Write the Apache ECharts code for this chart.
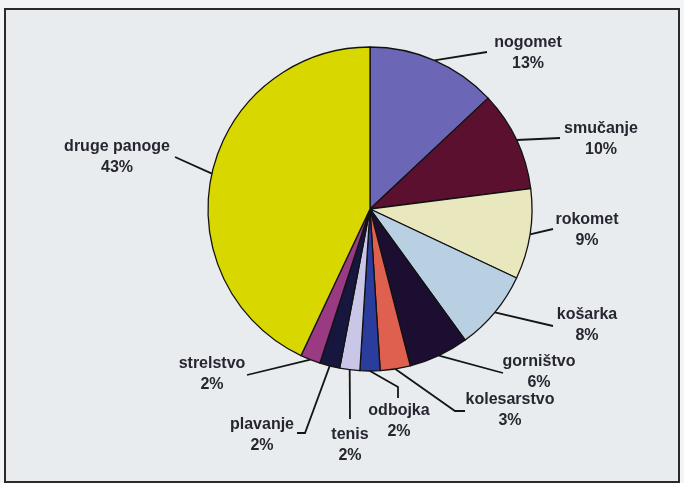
<!DOCTYPE html>
<html>
<head>
<meta charset="utf-8">
<script src="https://cdn.jsdelivr.net/npm/echarts@6/dist/echarts.min.js"></script>
<style>
  html, body { margin: 0; padding: 0; background: #f3f4f5; }
  #frame { position: absolute; left: 4px; top: 8px; width: 672px; height: 471px;
           border: 2px solid #2a2a2a; background: #e9ecef; }
  #chart { position: absolute; left: 0; top: 0; width: 684px; height: 483px; }
</style>
</head>
<body>
<div id="frame"></div>
<div id="chart"></div>
<script>
// ---- data ----
var categories = ['nogomet', 'smučanje', 'rokomet', 'košarka', 'gorništvo', 'kolesarstvo',
                  'odbojka', 'tenis', 'plavanje', 'strelstvo', 'druge panoge'];
var shares = [13, 10, 9, 8, 6, 3, 2, 2, 2, 2, 43];

// ---- styles / layout ----
var colors = ['#6c66b6', '#5c1030', '#e8e7bd', '#b9d0e3', '#1c0e30', '#e0604f',
              '#2a3c9c', '#c9c6e8', '#16163e', '#9a3a82', '#d8d800'];
// label centre and guide-line points after the slice edge point
var labelPlace = [
  { x: 528, y: 53,  line: [[487, 52]] },
  { x: 601, y: 139, line: [[560, 138]] },
  { x: 587, y: 230, line: [[553, 229]] },
  { x: 587, y: 325, line: [[553, 326]] },
  { x: 539, y: 372, line: [[503, 373]] },
  { x: 510, y: 410, line: [[455, 411], [465, 411]] },
  { x: 399, y: 421, line: [[398, 387], [398, 398]] },
  { x: 350, y: 445, line: [[350, 419]] },
  { x: 262, y: 435, line: [[305, 433], [297, 433]] },
  { x: 212, y: 374, line: [[247, 375]] },
  { x: 117, y: 157, line: [[175, 157]] }
];
var CX = 370, CY = 209, R = 162;

var total = shares.reduce(function (a, b) { return a + b; }, 0);
function edgePoint(i) {
  var before = 0;
  for (var k = 0; k < i; k++) before += shares[k];
  var mid = (before + shares[i] / 2) / total * Math.PI * 2;
  return [CX + R * Math.sin(mid), CY - R * Math.cos(mid)];
}

var chart = echarts.init(document.getElementById('chart'), null, { renderer: 'canvas' });
chart.setOption({
  backgroundColor: 'transparent',
  animation: false,
  series: [{
    type: 'pie',
    center: [CX, CY],
    radius: R,
    startAngle: 90,
    clockwise: true,
    avoidLabelOverlap: false,
    data: categories.map(function (c, i) {
      return { name: c, value: shares[i], itemStyle: { color: colors[i] } };
    }),
    itemStyle: { borderColor: '#121212', borderWidth: 1.3 },
    label: {
      show: true,
      position: 'outside',
      formatter: '{b}\n{c}%',
      fontFamily: 'Liberation Sans, Arial, sans-serif',
      fontWeight: 'bold',
      fontSize: 16,
      lineHeight: 21,
      color: '#262630',
      align: 'center'
    },
    labelLine: {
      show: true,
      length: 15,
      length2: 20,
      lineStyle: { color: '#151515', width: 1.8 }
    },
    labelLayout: function (p) {
      var L = labelPlace[p.dataIndex];
      var start = edgePoint(p.dataIndex);
      return {
        x: L.x, y: L.y, align: 'center', verticalAlign: 'middle',
        labelLinePoints: [start].concat(L.line)
      };
    },
    emphasis: { disabled: true }
  }]
});
</script>
</body>
</html>
